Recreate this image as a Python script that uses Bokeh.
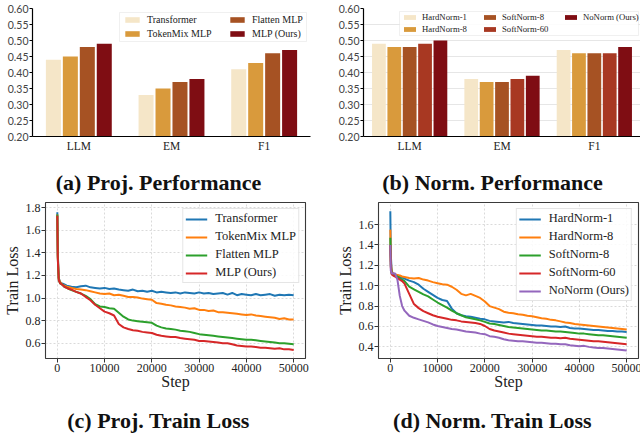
from bokeh.plotting import figure
from bokeh.models import (FactorRange, Range1d, FixedTicker, NumeralTickFormatter, Legend,
                          LegendItem, BoxAnnotation, ColumnDataSource)
from bokeh.core.properties import value
from bokeh.transform import dodge
from bokeh.layouts import row, column
from bokeh.embed import file_html
from bokeh.resources import INLINE

SERIF = "Liberation Serif"
SANS = "Lato"

# ---------------- bar data ----------------
METRICS = ["LLM", "EM", "F1"]
BAR_TICKS = [0.20, 0.25, 0.30, 0.35, 0.40, 0.45, 0.50, 0.55, 0.60]

PROJ_LABELS = ["Transformer", "TokenMix MLP", "Flatten MLP", "MLP (Ours)"]
PROJ_TRANSFORMER = [0.44, 0.33, 0.41]
PROJ_TOKENMIX = [0.45, 0.35, 0.43]
PROJ_FLATTEN = [0.48, 0.37, 0.46]
PROJ_MLP = [0.49, 0.38, 0.47]
PROJ_COLORS = ["#F5E6C8", "#D99A3C", "#A65223", "#7F0D13"]

NORM_LABELS = ["HardNorm-1", "HardNorm-8", "SoftNorm-8", "SoftNorm-60", "NoNorm (Ours)"]
NORM_HARD1 = [0.49, 0.38, 0.47]
NORM_HARD8 = [0.48, 0.37, 0.46]
NORM_SOFT8 = [0.48, 0.37, 0.46]
NORM_SOFT60 = [0.49, 0.38, 0.46]
NORM_NONORM = [0.50, 0.39, 0.48]
NORM_COLORS = ["#F5E6C8", "#D99A3C", "#A65223", "#A83822", "#7F0D13"]

CAPTIONS = ["(a) Proj. Performance", "(b) Norm. Performance",
            "(c) Proj. Train Loss", "(d) Norm. Train Loss"]

# ---------------- loss data ----------------
STEPS = [0, 100, 300, 600, 1000, 1500, 2000, 2500] + list(range(3000, 50001, 1000))
X_TICKS = [0, 10000, 20000, 30000, 40000, 50000]

C_TRANSFORMER = [
    1.76, 1.40, 1.18, 1.14, 1.13, 1.12, 1.11, 1.105,
    1.10, 1.095, 1.105, 1.11, 1.095, 1.09, 1.085, 1.09, 1.08, 1.085,
    1.075, 1.07, 1.065, 1.075, 1.06, 1.065, 1.055, 1.065, 1.05, 1.055,
    1.05, 1.045, 1.05, 1.04, 1.05, 1.045, 1.04, 1.05, 1.04, 1.045,
    1.035, 1.04, 1.045, 1.03, 1.045, 1.025, 1.035, 1.03, 1.025, 1.035,
    1.025, 1.03, 1.035, 1.02, 1.03, 1.025, 1.03, 1.025]
C_TOKENMIX = [
    1.74, 1.38, 1.17, 1.14, 1.12, 1.11, 1.10, 1.095,
    1.09, 1.08, 1.075, 1.07, 1.06, 1.05, 1.04, 1.035, 1.04, 1.025,
    1.03, 1.02, 1.01, 1.01, 1.005, 0.995, 0.99, 0.985, 0.955, 0.95,
    0.94, 0.935, 0.925, 0.92, 0.915, 0.905, 0.91, 0.895, 0.895, 0.885,
    0.89, 0.875, 0.875, 0.87, 0.865, 0.86, 0.855, 0.85, 0.855, 0.845,
    0.84, 0.835, 0.83, 0.825, 0.815, 0.82, 0.81, 0.81]
C_FLATTEN = [
    1.74, 1.36, 1.16, 1.13, 1.12, 1.10, 1.09, 1.08,
    1.07, 1.055, 1.04, 1.02, 0.99, 0.945, 0.925, 0.92, 0.91, 0.905,
    0.87, 0.835, 0.81, 0.80, 0.795, 0.79, 0.785, 0.78, 0.755, 0.74,
    0.73, 0.725, 0.72, 0.71, 0.705, 0.70, 0.69, 0.68, 0.675, 0.67,
    0.665, 0.66, 0.655, 0.65, 0.645, 0.64, 0.635, 0.63, 0.63, 0.625,
    0.62, 0.615, 0.61, 0.605, 0.60, 0.60, 0.595, 0.59]
C_MLP = [
    1.73, 1.35, 1.16, 1.13, 1.12, 1.10, 1.09, 1.08,
    1.075, 1.055, 1.04, 1.01, 0.98, 0.94, 0.91, 0.88, 0.865, 0.845,
    0.77, 0.74, 0.725, 0.715, 0.71, 0.70, 0.695, 0.69, 0.675, 0.665,
    0.66, 0.655, 0.655, 0.645, 0.64, 0.635, 0.63, 0.62, 0.62, 0.615,
    0.61, 0.605, 0.60, 0.60, 0.59, 0.58, 0.575, 0.57, 0.57, 0.565,
    0.56, 0.56, 0.555, 0.55, 0.555, 0.545, 0.545, 0.54]

D_HARD1 = [
    1.73, 1.30, 1.14, 1.12, 1.11, 1.10, 1.09, 1.08,
    1.07, 1.05, 1.035, 1.01, 0.97, 0.94, 0.91, 0.88, 0.86, 0.85,
    0.775, 0.73, 0.71, 0.70, 0.695, 0.685, 0.675, 0.67, 0.655, 0.65,
    0.645, 0.64, 0.645, 0.635, 0.63, 0.625, 0.62, 0.615, 0.61, 0.61,
    0.605, 0.60, 0.60, 0.595, 0.60, 0.585, 0.58, 0.58, 0.575, 0.57,
    0.565, 0.565, 0.56, 0.555, 0.555, 0.55, 0.55, 0.545]
D_HARD8 = [
    1.55, 1.25, 1.13, 1.12, 1.11, 1.105, 1.10, 1.09,
    1.085, 1.075, 1.07, 1.075, 1.06, 1.05, 1.035, 1.025, 1.015, 1.01,
    0.99, 0.96, 0.92, 0.905, 0.92, 0.90, 0.88, 0.845, 0.80, 0.785,
    0.77, 0.745, 0.735, 0.73, 0.72, 0.715, 0.705, 0.70, 0.69, 0.68,
    0.675, 0.665, 0.66, 0.65, 0.64, 0.635, 0.625, 0.62, 0.615, 0.61,
    0.605, 0.60, 0.595, 0.59, 0.585, 0.58, 0.575, 0.57]
D_SOFT8 = [
    1.47, 1.20, 1.12, 1.11, 1.10, 1.09, 1.075, 1.06,
    1.045, 0.99, 0.965, 0.94, 0.915, 0.895, 0.865, 0.835, 0.81, 0.785,
    0.755, 0.73, 0.71, 0.69, 0.68, 0.67, 0.66, 0.645, 0.63, 0.625,
    0.615, 0.605, 0.595, 0.59, 0.585, 0.58, 0.575, 0.57, 0.565, 0.56,
    0.56, 0.555, 0.55, 0.55, 0.545, 0.54, 0.535, 0.53, 0.53, 0.525,
    0.52, 0.515, 0.515, 0.51, 0.505, 0.50, 0.495, 0.49]
D_SOFT60 = [
    1.40, 1.18, 1.11, 1.10, 1.09, 1.075, 1.06, 1.045,
    1.02, 0.92, 0.82, 0.78, 0.75, 0.73, 0.71, 0.695, 0.685, 0.675,
    0.665, 0.66, 0.65, 0.645, 0.64, 0.635, 0.625, 0.605, 0.575, 0.56,
    0.55, 0.54, 0.53, 0.525, 0.52, 0.515, 0.51, 0.505, 0.50, 0.50,
    0.495, 0.49, 0.49, 0.485, 0.49, 0.48, 0.475, 0.47, 0.465, 0.46,
    0.455, 0.455, 0.45, 0.445, 0.44, 0.435, 0.43, 0.425]
D_NONORM = [
    1.40, 1.15, 1.12, 1.12, 1.12, 1.06, 0.90, 0.80,
    0.755, 0.705, 0.685, 0.67, 0.655, 0.64, 0.62, 0.605, 0.595, 0.585,
    0.575, 0.57, 0.56, 0.55, 0.545, 0.54, 0.53, 0.525, 0.505, 0.50,
    0.49, 0.475, 0.465, 0.46, 0.455, 0.455, 0.45, 0.445, 0.44, 0.44,
    0.435, 0.43, 0.43, 0.425, 0.425, 0.415, 0.41, 0.405, 0.41, 0.40,
    0.395, 0.39, 0.39, 0.385, 0.38, 0.375, 0.37, 0.365]

C_LABELS = ["Transformer", "TokenMix MLP", "Flatten MLP", "MLP (Ours)"]
D_LABELS = ["HardNorm-1", "HardNorm-8", "SoftNorm-8", "SoftNorm-60", "NoNorm (Ours)"]
LINE_COLORS = ["#1f77b4", "#ff7f0e", "#2ca02c", "#d62728", "#9467bd"]


def caption_fig(text, height, cx, cy):
    """A borderless strip that only holds a sub-figure caption."""
    c = figure(width=320, height=height, x_range=Range1d(0, 320), y_range=Range1d(0, height),
               x_axis_type=None, y_axis_type=None, min_border=0,
               output_backend="svg", toolbar_location=None)
    c.outline_line_color = None
    c.grid.visible = False
    c.text(x=[cx], y=[cy], text=[text], text_align="center", text_baseline="middle",
           text_font=value(SERIF), text_font_size="22px", text_font_style="bold",
           text_color="#111111")
    return c


def bar_panel(series, labels, colors, step, bw, fw, bl, br, grid,
              leg_cfg, box, font_size, glyph_w, glyph_h, label_h, standoff):
    p = figure(x_range=FactorRange(factors=METRICS), y_range=Range1d(0.2, 0.6),
               frame_width=fw, frame_height=128, min_border_left=bl, min_border_right=br,
               min_border_top=8, min_border_bottom=30,
               output_backend="svg", toolbar_location=None)
    data = {"metric": METRICS}
    for i, s in enumerate(series):
        data["s%d" % i] = s
    src = ColumnDataSource(data)
    n = len(series)
    rends = []
    for i, col in enumerate(colors):
        off = (i - (n - 1) / 2.0) * step
        r = p.vbar(x=dodge("metric", off, range=p.x_range), top="s%d" % i, bottom=0,
                   width=bw, source=src, fill_color=col, line_color=None)
        rends.append(r)
    p.outline_line_color = None
    p.xgrid.visible = False
    if grid:
        p.ygrid.grid_line_color = "#e6e6e6"
        p.ygrid.grid_line_width = 1
    else:
        p.ygrid.visible = False
    ya = p.yaxis[0]
    ya.ticker = FixedTicker(ticks=BAR_TICKS)
    ya.formatter = NumeralTickFormatter(format="0.00")
    ya.major_label_text_font = SANS
    ya.major_label_text_font_size = "10.5px"
    ya.major_label_text_color = "#444444"
    ya.axis_line_color = "black"
    ya.axis_line_width = 1.2
    ya.major_tick_line_color = "black"
    ya.major_tick_out = 3
    ya.major_tick_in = 0
    ya.minor_tick_line_color = None
    ya.major_label_standoff = 1
    xa = p.xaxis[0]
    xa.axis_line_color = "black"
    xa.axis_line_width = 1.2
    xa.major_tick_line_color = None
    xa.major_tick_out = 0
    xa.major_tick_in = 0
    xa.minor_tick_line_color = None
    xa.major_label_text_font = SERIF
    xa.major_label_text_font_size = "11.5px"
    xa.major_label_text_color = "#222222"
    xa.major_label_standoff = 3

    bl_, br_, bb_, bt_ = box
    p.add_layout(BoxAnnotation(left=bl_, right=br_, bottom=bb_, top=bt_,
                               left_units="screen", right_units="screen",
                               bottom_units="screen", top_units="screen",
                               fill_color="white", fill_alpha=0.85,
                               line_color="#cccccc", line_width=1))
    for idxs, lx, ly in leg_cfg:
        leg = Legend(items=[LegendItem(label=labels[k], renderers=[rends[k]]) for k in idxs],
                     location=(lx, ly), orientation="vertical",
                     border_line_color=None, background_fill_alpha=0.0,
                     padding=0, margin=0, spacing=2,
                     glyph_width=glyph_w, glyph_height=glyph_h, label_height=label_h,
                     label_standoff=standoff, label_text_font=SERIF,
                     label_text_font_size=font_size, label_text_color="#222222")
        p.add_layout(leg)
    return p


def line_panel(series, labels, y_lo, y_hi, yticks, bl, br):
    p = figure(x_range=Range1d(-2500, 52500), y_range=Range1d(y_lo, y_hi),
               frame_width=260, frame_height=156, min_border_left=bl, min_border_right=br,
               min_border_top=7, min_border_bottom=40,
               output_backend="svg", toolbar_location=None)
    items = []
    for vals, lab, col in zip(series, labels, LINE_COLORS):
        r = p.line(STEPS, vals, line_color=col, line_width=2.0)
        items.append(LegendItem(label=lab, renderers=[r]))
    p.outline_line_color = "#3a3a3a"
    p.outline_line_width = 1.1
    p.grid.grid_line_color = "#d0d0d0"
    p.grid.grid_line_dash = "2 2"
    p.grid.grid_line_width = 0.8
    for ax in (p.xaxis[0], p.yaxis[0]):
        ax.axis_line_color = None
        ax.major_tick_line_color = "#333333"
        ax.major_tick_out = 4
        ax.major_tick_in = 0
        ax.minor_tick_line_color = None
        ax.major_label_text_font = SERIF
        ax.major_label_text_font_size = "12px"
        ax.major_label_text_color = "#222222"
        ax.major_label_standoff = 1
        ax.axis_label_text_font = SERIF
        ax.axis_label_text_font_size = "16px"
        ax.axis_label_text_font_style = "normal"
        ax.axis_label_text_color = "#222222"
        ax.axis_label_standoff = 2
    p.xaxis[0].axis_label_standoff = -2
    p.xaxis[0].ticker = FixedTicker(ticks=X_TICKS)
    p.xaxis[0].formatter = NumeralTickFormatter(format="0")
    p.xaxis[0].axis_label = "Step"
    p.yaxis[0].ticker = FixedTicker(ticks=yticks)
    p.yaxis[0].formatter = NumeralTickFormatter(format="0.0")
    p.yaxis[0].axis_label = "Train Loss"
    leg = Legend(items=items, location="top_right", margin=6, padding=2, spacing=3,
                 glyph_width=22, glyph_height=14, label_height=14, label_standoff=8,
                 label_text_font=SERIF, label_text_font_size="12.5px",
                 label_text_color="#222222", border_line_color="#cccccc",
                 background_fill_alpha=0.85)
    p.add_layout(leg)
    return p


pa = bar_panel([PROJ_TRANSFORMER, PROJ_TOKENMIX, PROJ_FLATTEN, PROJ_MLP], PROJ_LABELS,
               PROJ_COLORS, 0.183, 0.162, 278, 32, 10, False,
               [([0, 1], 91, 97), ([2, 3], 196, 97)], (87, 274, 95, 124),
               "10px", 18, 7, 12, 6)
pb = bar_panel([NORM_HARD1, NORM_HARD8, NORM_SOFT8, NORM_SOFT60, NORM_NONORM], NORM_LABELS,
               NORM_COLORS, 0.1665, 0.149, 277, 43, 0, True,
               [([0, 1], 39, 102), ([2, 3], 119, 102), ([4], 200, 114)], (36, 275, 101, 125),
               "8.7px", 15, 6, 10, 5)
pc = line_panel([C_TRANSFORMER, C_TOKENMIX, C_FLATTEN, C_MLP], C_LABELS, 0.464, 1.847,
                [0.6, 0.8, 1.0, 1.2, 1.4, 1.6, 1.8], 44, 16)
pd_ = line_panel([D_HARD1, D_HARD8, D_SOFT8, D_SOFT60, D_NONORM], D_LABELS, 0.286, 1.816,
                 [0.4, 0.6, 0.8, 1.0, 1.2, 1.4, 1.6], 57, 3)

ca = caption_fig(CAPTIONS[0], 29, 158, 13)
cb = caption_fig(CAPTIONS[1], 29, 172, 13)
cc = caption_fig(CAPTIONS[2], 36, 158, 14)
cd = caption_fig(CAPTIONS[3], 36, 172, 14)

layout = column(row(pa, pb), row(ca, cb), row(pc, pd_), row(cc, cd))
open("out.html", "w").write(file_html(layout, INLINE))
